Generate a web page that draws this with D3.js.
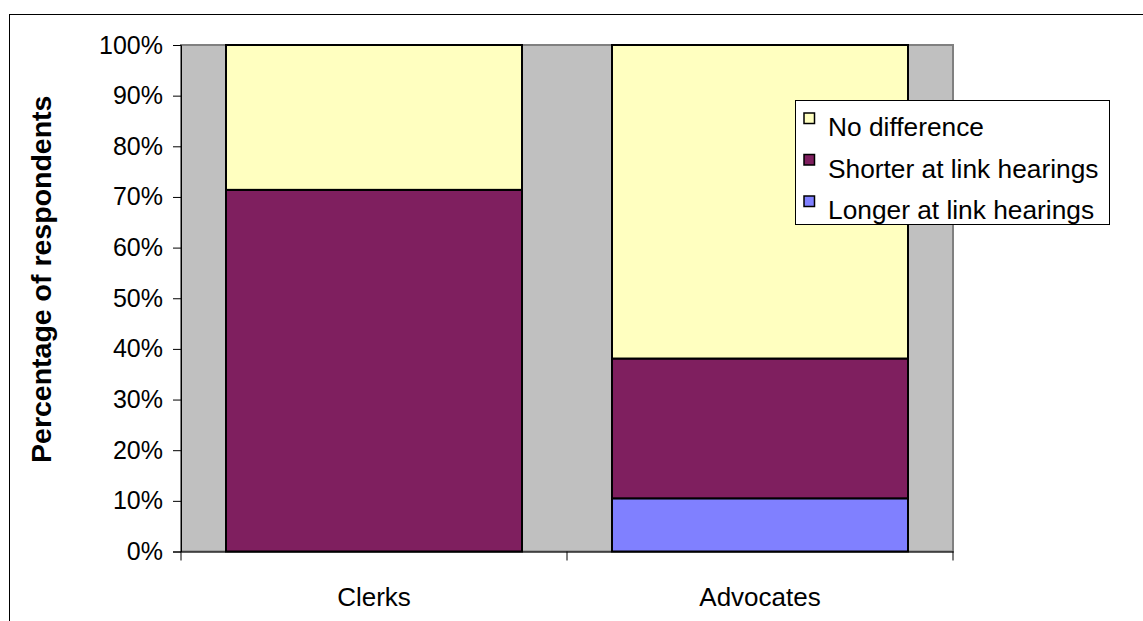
<!DOCTYPE html>
<html><head><meta charset="utf-8">
<script src="https://cdn.jsdelivr.net/npm/d3@7"></script>
<style>body{margin:0;background:#fff}svg{display:block;font-family:"Liberation Sans",Arial,sans-serif}</style>
</head><body><svg id="c" width="1143" height="621"></svg>
<script>
const categories = ["Clerks", "Advocates"];
const seriesNames = ["Longer at link hearings", "Shorter at link hearings", "No difference"];
const longer = [0, 10.5];
const shorter = [71.4, 27.6];
const noDifference = [28.6, 61.9];
const yTicks = [0,10,20,30,40,50,60,70,80,90,100];
const colors = ["#8080ff", "#7f1f5f", "#ffffc0"];

const FF = "Liberation Sans, Arial, sans-serif";
const svg = d3.select("#c");
svg.append("rect").attr("x",9.5).attr("y",14.5).attr("width",1200).attr("height",700)
  .attr("fill","#fff").attr("stroke","#000").attr("stroke-width",1);

const L=181, R=953, T=45, B=551.5;
const x = d3.scaleBand().domain(categories).range([L,R]).paddingInner(90/386).paddingOuter(45/386);
const y = d3.scaleLinear().domain([0,100]).range([B,T]);

svg.append("rect").attr("x",L).attr("y",T).attr("width",R-L).attr("height",B-T)
  .attr("fill","#c0c0c0").attr("stroke","#808080").attr("stroke-width",2);

const data = categories.map((c,i)=>({cat:c, [seriesNames[0]]:longer[i], [seriesNames[1]]:shorter[i], [seriesNames[2]]:noDifference[i]}));
const stack = d3.stack().keys(seriesNames)(data);
stack.forEach((s,si)=>{
  svg.append("g").selectAll("rect").data(s.filter(d=>d[1]-d[0]>0)).join("rect")
    .attr("x",d=>x(d.data.cat)).attr("width",x.bandwidth())
    .attr("y",d=>y(d[1])).attr("height",d=>y(d[0])-y(d[1]))
    .attr("fill",colors[si]).attr("stroke","#000").attr("stroke-width",2);
});

const ya = svg.append("g").attr("transform",`translate(${L},0)`)
  .call(d3.axisLeft(y).tickValues(yTicks).tickFormat(d=>d+"%").tickSize(8).tickPadding(10));
ya.select(".domain").attr("stroke","#000");
ya.selectAll("line").attr("stroke","#000");
ya.selectAll("text").attr("font-size",25).attr("fill","#000").attr("font-family",FF);

const xa = svg.append("g").attr("transform",`translate(0,${B})`)
  .call(d3.axisBottom(x).tickSize(0).tickPadding(36));
xa.select(".domain").attr("stroke","#000");
xa.selectAll("text").attr("font-size",26).attr("fill","#000").attr("font-family",FF);
const bounds=[L,(L+R)/2,R];
svg.append("g").selectAll("line").data(bounds).join("line")
  .attr("x1",d=>d).attr("x2",d=>d).attr("y1",B).attr("y2",B+9).attr("stroke","#000");

svg.append("text").attr("transform",`translate(51,${(T+B)/2 - 19}) rotate(-90)`)
  .attr("text-anchor","middle").attr("font-size",28.5).attr("font-weight","bold").text("Percentage of respondents");

const lg = svg.append("g");
lg.append("rect").attr("x",795.5).attr("y",100.5).attr("width",314).attr("height",124)
  .attr("fill","#fff").attr("stroke","#000");
const legendItems = [seriesNames[2], seriesNames[1], seriesNames[0]];
const legendColors = [colors[2], colors[1], colors[0]];
legendItems.forEach((n,i)=>{
  const base = 136 + i*41.5;
  lg.append("rect").attr("x",804).attr("y",base-23).attr("width",10.5).attr("height",10.5)
    .attr("fill",legendColors[i]).attr("stroke","#000").attr("stroke-width",1.5);
  lg.append("text").attr("x",828).attr("y",base).attr("font-size",26.3).text(n);
});
</script></body></html>
